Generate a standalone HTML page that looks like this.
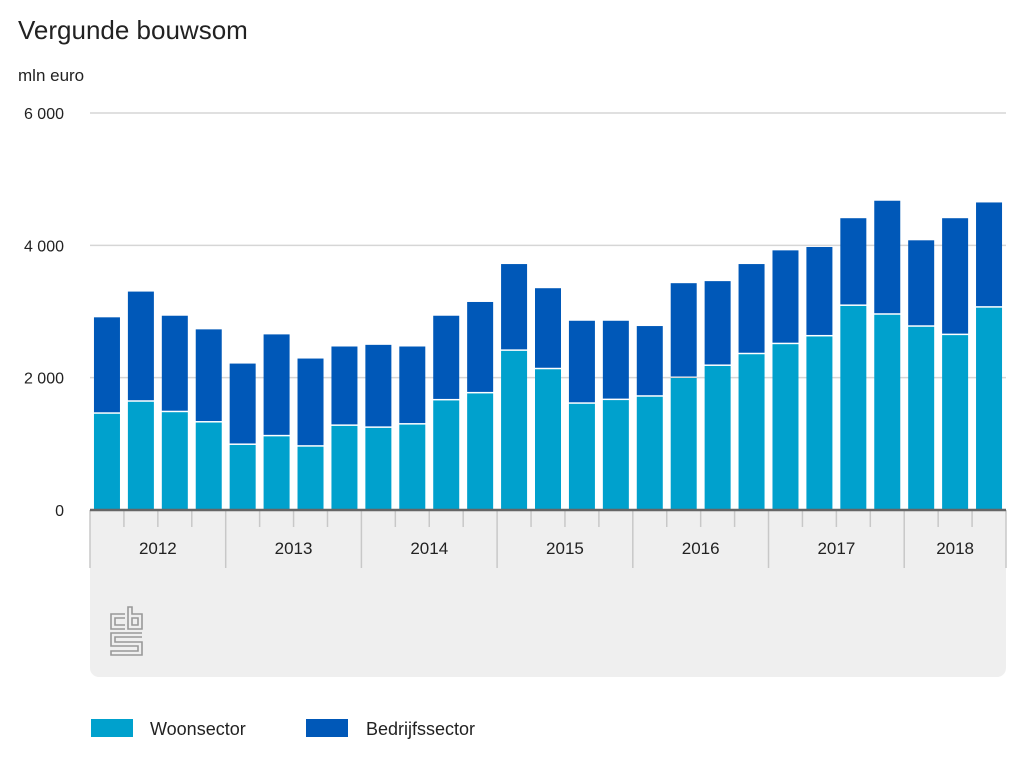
<!DOCTYPE html>
<html><head><meta charset="utf-8"><style>
body{margin:0;width:1024px;height:768px;background:#fff;font-family:"Liberation Sans",sans-serif;color:#222;overflow:hidden}
</style></head><body>
<svg width="1024" height="768">
<text x="18" y="39" font-size="26" fill="#222">Vergunde bouwsom</text>
<text x="18" y="81" font-size="17" fill="#222">mln euro</text>
<path d="M90,510 H1006 V668 a9,9 0 0 1 -9,9 H99 a9,9 0 0 1 -9,-9 Z" fill="#efefef"/>
<g id="grid"></g>
<g id="bars"></g>
<g id="xaxis"></g>
<g fill="none" stroke="#999" stroke-width="1.6">
<path d="M125,614 H111 V629 H125 M125,618 H115 V625 H125"/>
<path d="M128,607 V629 H142 V614 H132 V607 Z M132,618 H138 V625 H132 Z"/>
<path d="M142,633 H111 V646 H138 V651 H111 V655 H142 V642 H115 V637 H142"/>
</g>
<rect x="91" y="719" width="42" height="18" fill="#00a1cd"/>
<text x="150" y="735" font-size="18" fill="#222">Woonsector</text>
<rect x="306" y="719" width="42" height="18" fill="#0058b8"/>
<text x="366" y="735" font-size="18" fill="#222">Bedrijfssector</text>
</svg>
<script>
const years=['2012','2013','2014','2015','2016','2017','2018'];
const quartersPerYear=[4,4,4,4,4,4,3];
const woon=[1454,1636,1478,1322,983,1113,957,1271,1241,1291,1656,1762,2405,2127,1605,1661,1712,1995,2177,2354,2506,2623,3084,2951,2769,2643,3058];
const totaal=[2912,3301,2936,2730,2213,2654,2289,2471,2496,2471,2936,3144,3717,3352,2860,2860,2780,3428,3459,3717,3924,3975,4410,4674,4076,4410,4648];
const yTicks=[0,2000,4000,6000];
const yTickLabels=['0','2 000','4 000','6 000'];
const NS='http://www.w3.org/2000/svg';
const L=90,R=1006,B=510,T=113,MAX=6000;
const n=woon.length,band=(R-L)/n,bw=26;
const y=v=>B-(v/MAX)*(B-T);
const x=i=>L+band*i+band/2;
function mk(t,a,p){const e=document.createElementNS(NS,t);for(const k in a)e.setAttribute(k,a[k]);p.appendChild(e);return e;}
const g=document.getElementById('grid');
yTicks.forEach((v,i)=>{
 if(v>0){const l=mk('line',{x1:L,x2:R,y1:y(v),y2:y(v),stroke:'#d6d6d6','stroke-width':1.5},g);
 
 }
 const t=mk('text',{x:64,y:y(v)+6,'font-size':16,fill:'#222','text-anchor':'end'},g);
 t.textContent=yTickLabels[i];
 
 
});
const bg=document.getElementById('bars');
for(let i=0;i<n;i++){
 const a=mk('rect',{x:x(i)-bw/2,y:y(woon[i]),width:bw,height:B-y(woon[i]),fill:'#00a1cd'},bg);
 
 
 const b=mk('rect',{x:x(i)-bw/2,y:y(totaal[i]),width:bw,height:y(woon[i])-y(totaal[i])-1.5,fill:'#0058b8'},bg);
 
 
}
const xa=document.getElementById('xaxis');
let idx=0;
years.forEach((yr,j)=>{
 const q=quartersPerYear[j];
 const x0=L+band*idx;
 const s=mk('line',{x1:x0,x2:x0,y1:B,y2:568,stroke:'#c8c8c8','stroke-width':1.5},xa);
 
 
 for(let k=1;k<q;k++){
  const tk=mk('line',{x1:x0+band*k,x2:x0+band*k,y1:B,y2:527,stroke:'#c8c8c8','stroke-width':1.5},xa);
  
  
 }
 const t=mk('text',{x:x0+band*q/2,y:554,'font-size':17,fill:'#222','text-anchor':'middle'},xa);
 t.textContent=yr;
 
 
 idx+=q;
});
const s2=mk('line',{x1:R,x2:R,y1:B,y2:568,stroke:'#c8c8c8','stroke-width':1.5},xa);


const base=mk('line',{x1:L,x2:R,y1:B,y2:B,stroke:'#666','stroke-width':2.5},xa);


</script>
</body></html>
